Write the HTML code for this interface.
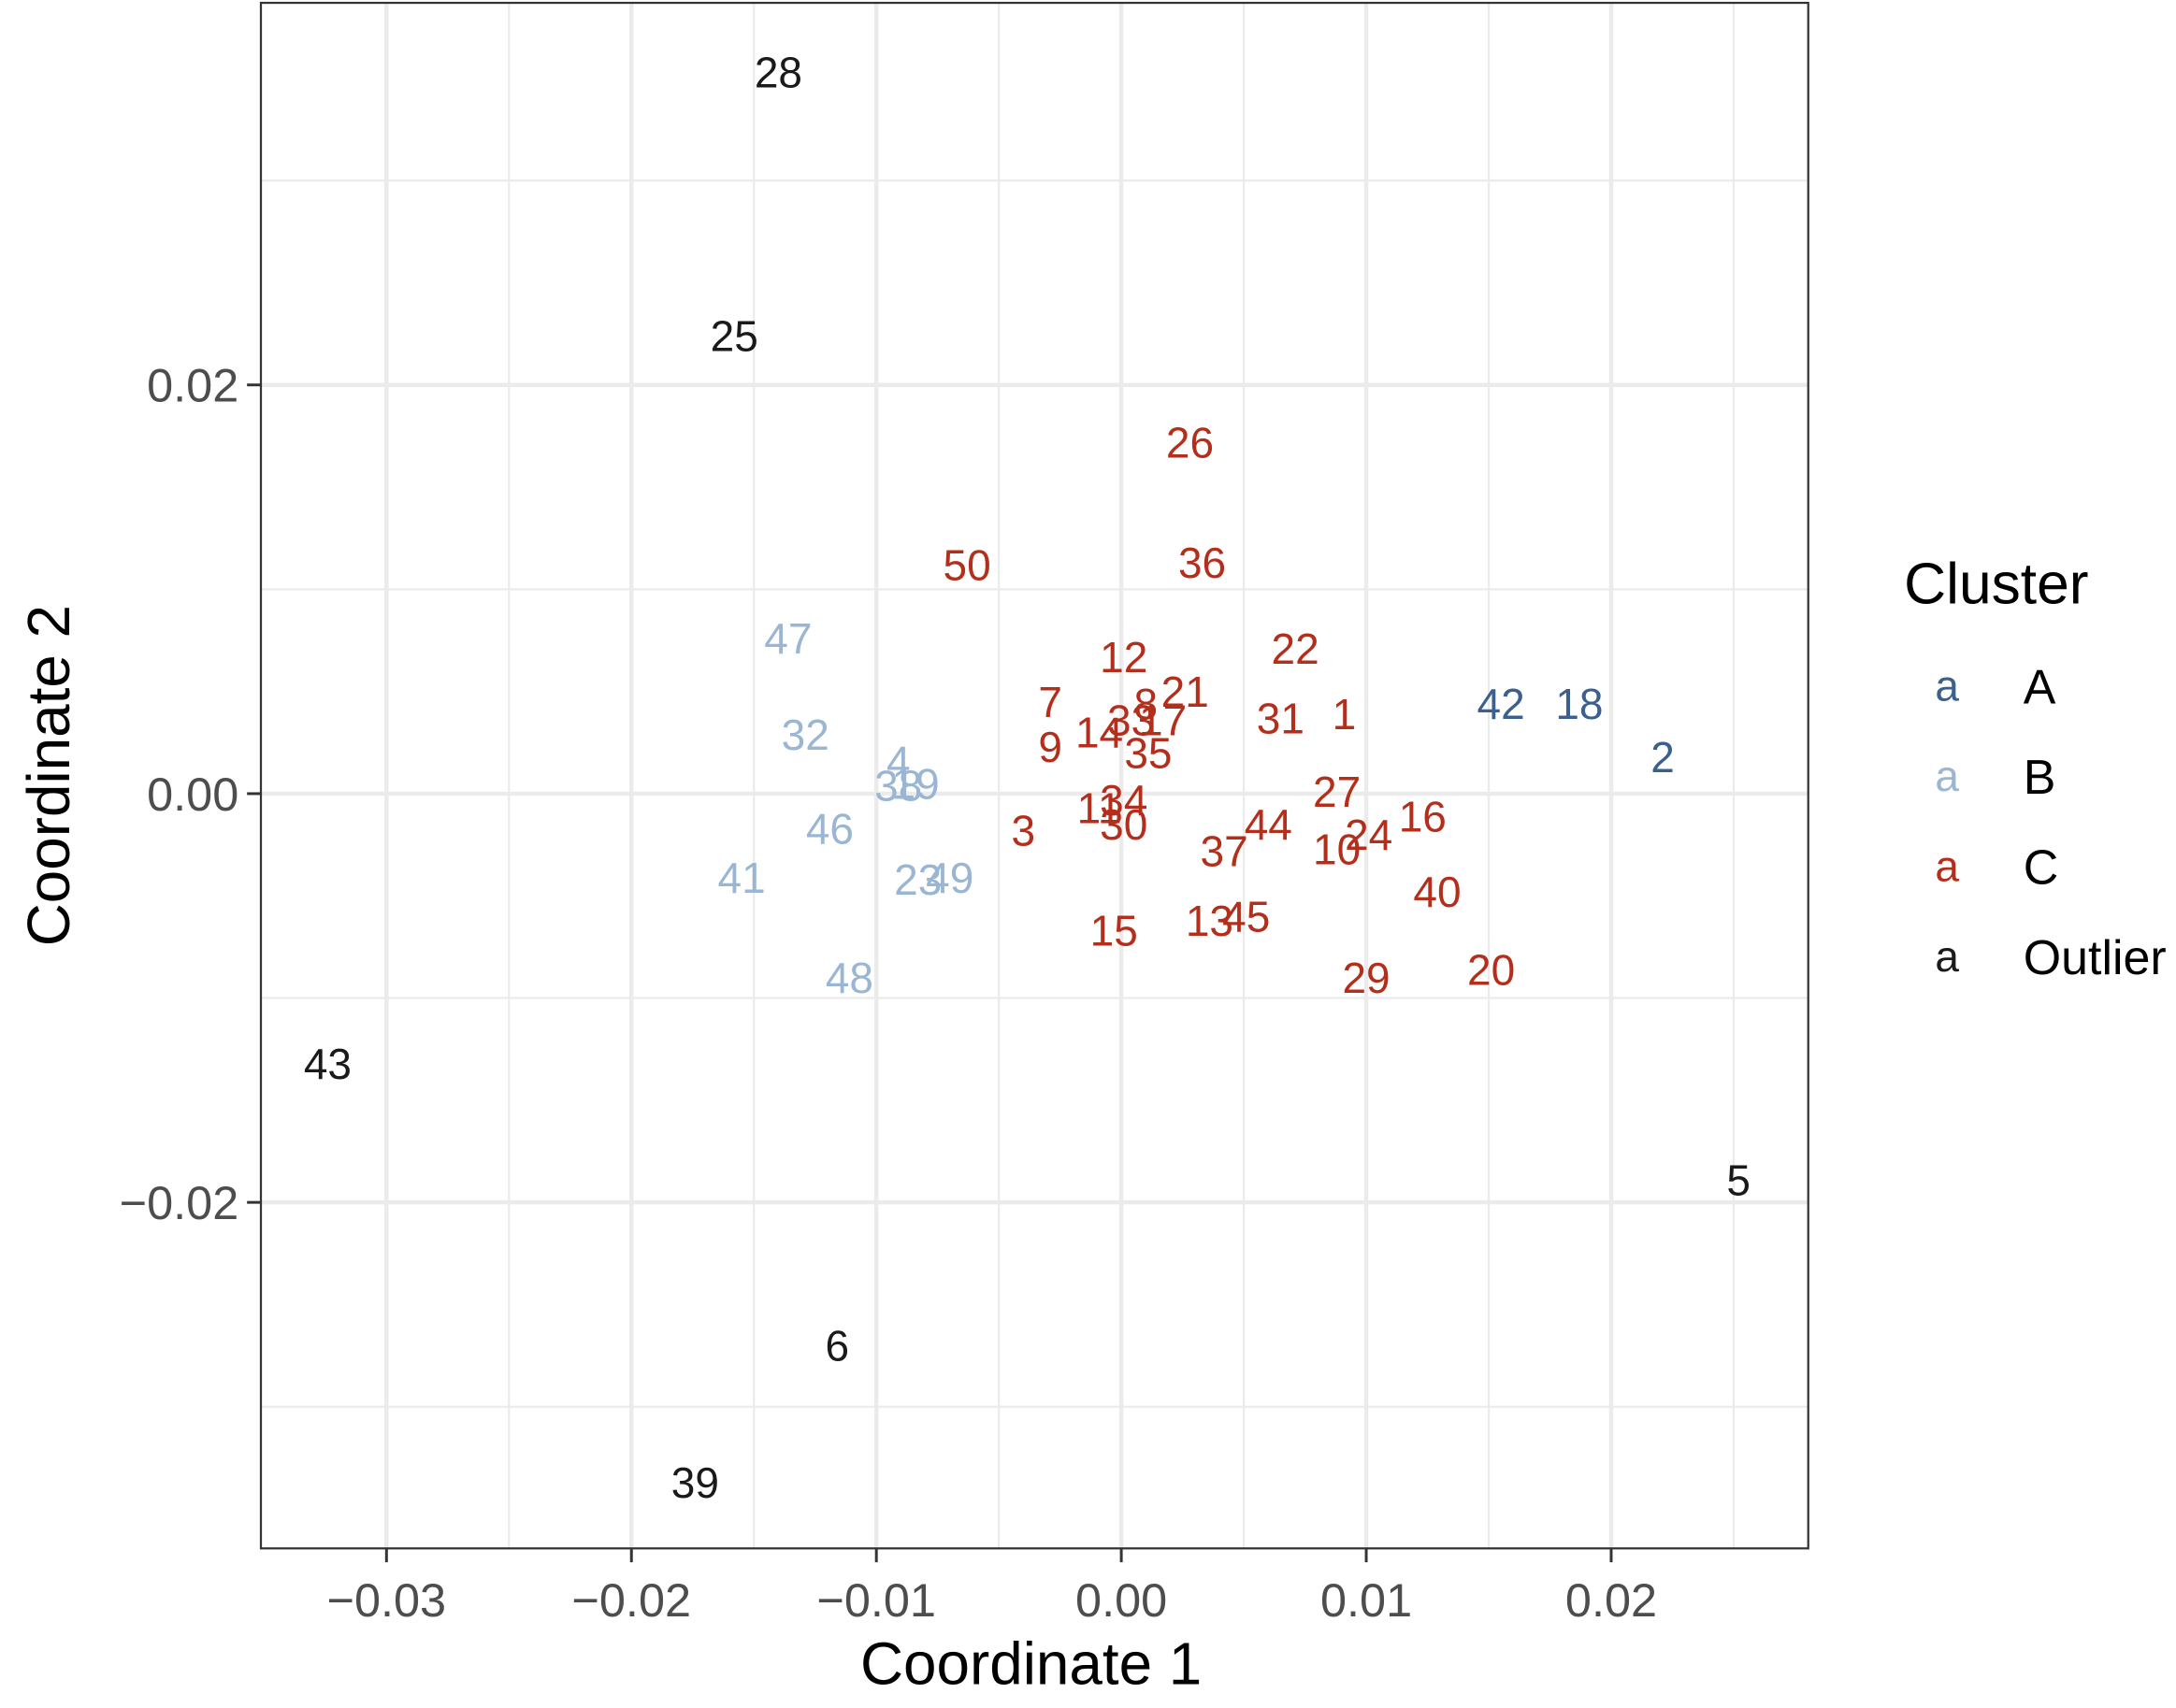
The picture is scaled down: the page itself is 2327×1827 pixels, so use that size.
<!DOCTYPE html>
<html><head><meta charset="utf-8"><style>
html,body{margin:0;padding:0;background:#fff}
svg{display:block;font-family:"Liberation Sans",Arial,sans-serif}
</style></head><body>
<svg id="chart" width="2327" height="1827" viewBox="0 0 1568 1231">
<rect x="0" y="0" width="1568" height="1231" fill="#fff"/>
<g id="grid"></g>
<g id="pts"></g>
<rect x="188" y="2" width="1115" height="1114" fill="none" stroke="#333" stroke-width="1.5"/>
<g id="axes"></g>
<text x="743" y="1214" font-size="43" text-anchor="middle" fill="#000">Coordinate 1</text>
<text transform="translate(50,559) rotate(-90)" font-size="43" text-anchor="middle" fill="#000">Coordinate 2</text>
<g>
<text x="1372" y="435" font-size="42" fill="#000">Cluster</text>
<g id="legend"></g>
</g>
</svg>
<script>
const labels=["28","25","43","6","39","5","42","18","2","47","32","4","38","19","46","41","23","49","48","26","50","36","22","12","21","7","8","33","17","31","1","14","9","35","27","11","34","30","3","16","44","24","10","37","40","13","45","15","29","20"];
const xVals=[-0.0140,-0.0158,-0.0324,-0.0116,-0.0174,0.0252,0.0155,0.0187,0.0221,-0.0136,-0.0129,-0.0091,-0.0091,-0.0084,-0.0119,-0.0155,-0.0083,-0.0070,-0.0111,0.0028,-0.0063,0.0033,0.0071,0.0001,0.0026,-0.0029,0.0010,0.0004,0.0017,0.0065,0.0091,-0.0009,-0.0029,0.0011,0.0088,-0.0009,0.0001,0.0001,-0.0040,0.0123,0.0060,0.0101,0.0088,0.0042,0.0129,0.0036,0.0051,-0.0003,0.0100,0.0151];
const yVals=[0.0353,0.0224,-0.0132,-0.0270,-0.0337,-0.0189,0.0044,0.0044,0.0018,0.0076,0.0029,0.0016,0.0004,0.0005,-0.0017,-0.0041,-0.0042,-0.0041,-0.0090,0.0172,0.0112,0.0113,0.0071,0.0067,0.0050,0.0045,0.0044,0.0036,0.0036,0.0037,0.0039,0.0030,0.0023,0.0020,0.0001,-0.0007,-0.0003,-0.0015,-0.0018,-0.0011,-0.0015,-0.0020,-0.0027,-0.0028,-0.0048,-0.0062,-0.0060,-0.0067,-0.0090,-0.0086];
const clusters=["Outlier","Outlier","Outlier","Outlier","Outlier","Outlier","A","A","A","B","B","B","B","B","B","B","B","B","B","C","C","C","C","C","C","C","C","C","C","C","C","C","C","C","C","C","C","C","C","C","C","C","C","C","C","C","C","C","C","C"];
const clusterNames=["A","B","C","Outlier"];
const xTicks=[-0.03,-0.02,-0.01,0.00,0.01,0.02];
const xTickLabels=["\u22120.03","\u22120.02","\u22120.01","0.00","0.01","0.02"];
const yTicks=[0.02,0.00,-0.02];
const yTickLabels=["0.02","0.00","\u22120.02"];
const xMinor=[-0.025,-0.015,-0.005,0.005,0.015,0.025];
const yMinor=[0.03,0.01,-0.01,-0.03];
const colors={A:"#3b5f8f",B:"#9ab6d2",C:"#b32f1c",Outlier:"#1a1a1a"};
const X=v=>808+v*17650, Y=v=>572-v*14730;
const NS="http://www.w3.org/2000/svg";
function mk(p,t,a){const e=document.createElementNS(NS,t);for(const k in a)e.setAttribute(k,a[k]);p.appendChild(e);return e;}
const grid=document.getElementById('grid'),axes=document.getElementById('axes'),pts=document.getElementById('pts'),leg=document.getElementById('legend');
xMinor.forEach(v=>{const l=mk(grid,'line',{x1:X(v),x2:X(v),y1:2,y2:1116,stroke:'#ebebeb','stroke-width':1.5});

});
yMinor.forEach(v=>{const l=mk(grid,'line',{x1:188,x2:1303,y1:Y(v),y2:Y(v),stroke:'#ebebeb','stroke-width':1.5});

});
xTicks.forEach((v,i)=>{const l=mk(grid,'line',{x1:X(v),x2:X(v),y1:2,y2:1116,stroke:'#ebebeb','stroke-width':3});


const t=mk(axes,'line',{x1:X(v),x2:X(v),y1:1116,y2:1126,stroke:'#333','stroke-width':2});


const tx=mk(axes,'text',{x:X(v),y:1165,'font-size':34,'text-anchor':'middle',fill:'#4d4d4d'});tx.textContent=xTickLabels[i];

});
yTicks.forEach((v,i)=>{const l=mk(grid,'line',{x1:188,x2:1303,y1:Y(v),y2:Y(v),stroke:'#ebebeb','stroke-width':3});


const t=mk(axes,'line',{x1:178,x2:188,y1:Y(v),y2:Y(v),stroke:'#333','stroke-width':2});


const tx=mk(axes,'text',{x:172,y:Y(v)+12,'font-size':34,'text-anchor':'end',fill:'#4d4d4d'});tx.textContent=yTickLabels[i];

});
labels.forEach((lb,i)=>{const t=mk(pts,'text',{x:X(xVals[i]),y:Y(yVals[i])+11,'font-size':31,'text-anchor':'middle',fill:colors[clusters[i]]});t.textContent=lb;

});
clusterNames.forEach((c,i)=>{const y=495+i*65;
const a=mk(leg,'text',{x:1403,y:y+10,'font-size':31,'text-anchor':'middle',fill:colors[c]});a.textContent='a';


const b=mk(leg,'text',{x:1458,y:y+12,'font-size':35,fill:'#000'});b.textContent=c;

});
</script>
</body></html>
